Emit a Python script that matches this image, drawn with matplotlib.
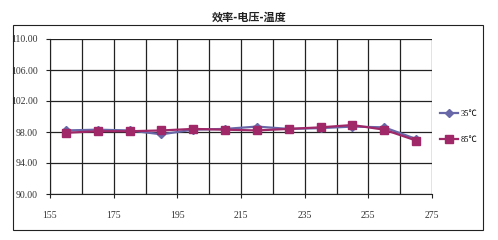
import matplotlib
matplotlib.use('Agg')
import matplotlib.pyplot as plt
from matplotlib.patches import Rectangle

plt.rcParams['font.family'] = ['Noto Sans CJK SC', 'DejaVu Sans']

voltage = [160, 170, 180, 190, 200, 210, 220, 230, 240, 250, 260, 270]
eff_35 = [98.2, 98.3, 98.2, 97.7, 98.3, 98.4, 98.7, 98.4, 98.5, 98.7, 98.6, 97.1]
eff_85 = [97.9, 98.1, 98.1, 98.2, 98.4, 98.3, 98.2, 98.4, 98.6, 98.9, 98.3, 96.9]
labels = ['35℃', '85℃']
yticks = [90, 94, 98, 102, 106, 110]
xticks = [155, 175, 195, 215, 235, 255, 275]

fig = plt.figure(figsize=(4.98, 2.40), dpi=100)
fig.patches.append(Rectangle((13 / 498, 10 / 240), 470 / 498, 205 / 240,
                             transform=fig.transFigure, fill=False,
                             edgecolor='#222222', linewidth=0.8))
ax = fig.add_axes([50 / 498, 46 / 240, 382 / 498, 155 / 240])

ax.plot(voltage, eff_35, color='#6868A8', marker='D', markersize=4.5,
        linewidth=1.6, label=labels[0])
ax.plot(voltage, eff_85, color='#A02868', marker='s', markersize=5.5,
        linewidth=1.6, label=labels[1])

ax.set_xlim(155, 275)
ax.set_ylim(90, 110)
ax.set_xticks(xticks)
ax.set_xticks(range(155, 276, 10), minor=True)
ax.set_yticks(yticks)
ax.set_yticklabels(['%.2f' % v for v in yticks])
ax.grid(True, which='both', color='#222222', linewidth=0.9)
ax.set_axisbelow(True)
for s in ['top', 'right']:
    ax.spines[s].set_visible(False)
for s in ['left', 'bottom']:
    ax.spines[s].set_color('#222222')
ax.tick_params(which='both', length=3, color='#222222')
ax.tick_params(axis='x', which='major', pad=9)
ax.tick_params(axis='y', pad=6)
ax.tick_params(axis='x', which='minor', length=0)
for t in ax.get_xticklabels() + ax.get_yticklabels():
    t.set_fontfamily('Liberation Serif')
    t.set_fontsize(7)
    t.set_color('#333333')

fig.text(0.5, 1 - 17 / 240, '效率-电压-温度', ha='center', va='center',
         fontsize=8, fontweight='bold', color='#222222')

fig.legend(loc='center left', bbox_to_anchor=(432 / 498, 1 - 127 / 240),
           frameon=False, labelspacing=2.2, handlelength=2.2,
           handletextpad=0.3,
           prop={'family': ['Liberation Serif', 'Noto Sans CJK SC'], 'size': 6})

fig.savefig('out.png', dpi=100)
